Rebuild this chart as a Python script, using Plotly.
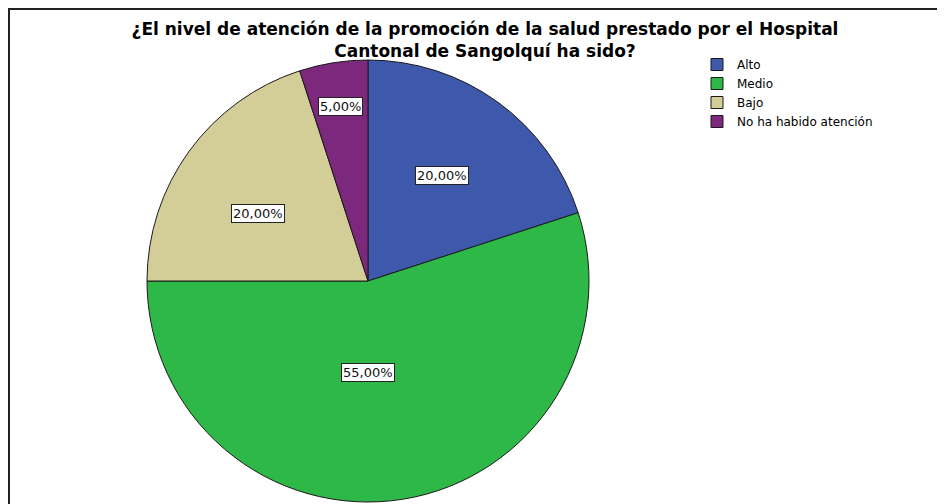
import plotly.graph_objects as go

# ---- data ----
categories = ["Alto", "Medio", "Bajo", "No ha habido atención"]
percentages = [20.0, 55.0, 20.0, 5.0]
colors = ["#3E58AC", "#2EB848", "#D3CE97", "#7C287D"]
title_text = ("¿El nivel de atención de la promoción de la salud prestado por el Hospital"
              "<br>Cantonal de Sangolquí ha sido?")

# ---- style / layout ----
# The page body has an 8px margin, so the figure starts at (8, 8) in the window.
OFF = 8
W, H = 945 - OFF, 504 - OFF
# value-box centres, in window pixels
label_pos_px = [(442, 175), (368, 372), (258, 213), (340, 106)]


def px_x(x):
    return (x - OFF) / W


def px_y(y):
    return (H - (y - OFF)) / H


cx, cy, r = 368, 281, 221  # pie centre and radius in window pixels

fig = go.Figure()
fig.add_trace(go.Pie(
    labels=categories,
    values=percentages,
    sort=False,
    direction="clockwise",
    rotation=0,
    marker=dict(colors=colors, line=dict(color="#1a1a1a", width=1)),
    textinfo="none",
    hoverinfo="label+percent",
    domain=dict(x=[px_x(cx - r), px_x(cx + r)], y=[px_y(cy + r), px_y(cy - r)]),
    showlegend=True,
))

annotations = []
for v, (lx, ly) in zip(percentages, label_pos_px):
    annotations.append(dict(
        x=px_x(lx), y=px_y(ly), xref="paper", yref="paper",
        text=f"{v:.2f}".replace(".", ",") + "%",
        showarrow=False,
        font=dict(family="DejaVu Sans", size=13, color="#111"),
        bgcolor="white", bordercolor="#222", borderwidth=1, borderpad=1,
        xanchor="center", yanchor="middle",
    ))

fig.update_layout(
    width=W, height=H,
    margin=dict(l=0, r=0, t=0, b=0),
    paper_bgcolor="white",
    plot_bgcolor="white",
    title=dict(
        text=title_text,
        x=px_x(485), xanchor="center",
        y=px_y(35), yanchor="top", yref="container",
        font=dict(family="DejaVu Sans", size=17, color="black", weight="bold"),
    ),
    legend=dict(
        x=px_x(697), y=px_y(50), xanchor="left", yanchor="top",
        font=dict(family="DejaVu Sans", size=12, color="black"),
        bgcolor="rgba(0,0,0,0)",
        tracegroupgap=0,
        itemclick=False,
    ),
    annotations=annotations,
    shapes=[dict(
        type="rect", xref="paper", yref="paper",
        x0=px_x(OFF + 1), x1=px_x(960), y0=px_y(520), y1=px_y(OFF + 1),
        line=dict(color="#222", width=2), fillcolor="rgba(0,0,0,0)",
        layer="below",
    )],
)

fig.write_html("out.html")
